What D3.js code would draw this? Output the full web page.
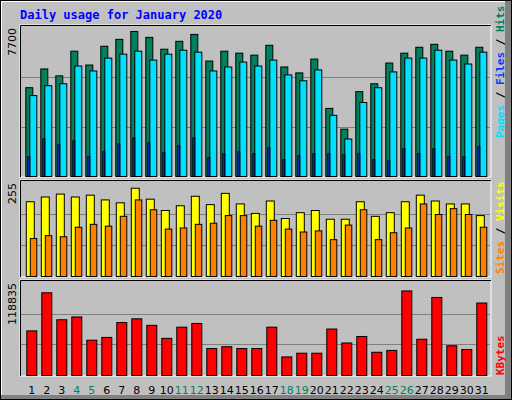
<!DOCTYPE html>
<html><head><meta charset="utf-8">
<script src="https://cdn.jsdelivr.net/npm/d3@7"></script>
<style>body{margin:0;background:#fff}svg{display:block}</style>
</head><body><svg width="512" height="400"></svg>
<script>
'use strict'

const days = d3.range(1, 32)
const weekend = [4, 5, 11, 12, 18, 19, 25, 26]
const hits = [4620, 5595, 5236, 6519, 5800, 6776, 7135, 7546, 7238, 6622, 7033, 7392, 6006, 6519, 6417, 6314, 6827, 5698, 5390, 6108, 3542, 2464, 4415, 4825, 5903, 6417, 6724, 6878, 6519, 6314, 6724]
const files = [4209, 4723, 4825, 5749, 5492, 6160, 6365, 6519, 6057, 6365, 6570, 6468, 5492, 5698, 5954, 5749, 6057, 5287, 4979, 5544, 3183, 1951, 3850, 4620, 5441, 6160, 6160, 6570, 6057, 5852, 6468]
const pages = [1027, 1951, 1643, 1848, 1027, 1283, 1694, 2002, 1745, 1232, 1591, 2002, 975, 1181, 1283, 1181, 1489, 873, 1078, 1181, 1181, 1129, 1181, 873, 821, 1437, 1181, 1437, 1027, 1027, 1540]
const sites = [205, 218, 226, 218, 223, 210, 202, 242, 212, 181, 194, 220, 197, 228, 199, 173, 207, 159, 175, 181, 157, 157, 205, 165, 175, 205, 223, 207, 199, 199, 167]
const visits = [104, 112, 109, 135, 143, 138, 165, 210, 183, 130, 133, 143, 146, 167, 167, 138, 154, 130, 122, 125, 101, 141, 183, 101, 120, 133, 199, 170, 186, 170, 135]
const kbytes = [57615, 106830, 72020, 75620, 45610, 49210, 68420, 73220, 64815, 48010, 62415, 67215, 34810, 37210, 34810, 34810, 62415, 24005, 28805, 28805, 60015, 42010, 50410, 30005, 32410, 109225, 46810, 100825, 38410, 33610, 93625]
const maxLabels = ['7700', '255', '118835']

const svg = d3.select('svg')
const mono = 'DejaVu Sans Mono, monospace'

// outer 3D frame
svg.append('rect').attr('width', 512).attr('height', 400).attr('fill', '#808080')
svg.append('rect').attr('width', 505).attr('height', 395).attr('fill', '#fff')
svg.append('rect').attr('x', 2).attr('y', 2).attr('width', 503).attr('height', 393).attr('fill', '#c0c0c0')
svg.append('rect').attr('x', 0.5).attr('y', 0.5).attr('width', 511).attr('height', 399).attr('fill', 'none').attr('stroke', '#000')

svg.append('text').attr('x', 20).attr('y', 19).text('Daily usage for January 2020')
  .attr('font-family', mono).attr('font-weight', 'bold').attr('font-size', 12).attr('fill', '#0000ff')

const x = d3.scaleBand().domain(days).range([21.3, 486.3]).paddingInner(0).paddingOuter(0)

function panel (top, bottom, max, label) {
  svg.append('rect').attr('x', 20).attr('y', top).attr('width', 471).attr('height', bottom - top)
    .attr('fill', '#c0c0c0').attr('stroke', '#fff')
  svg.append('path').attr('d', `M20.5,${bottom}V${top + 0.5}H491`).attr('stroke', '#000').attr('fill', 'none')
  const y = d3.scaleLinear().domain([0, max]).range([bottom - 1, top + 3])
  ;[1 / 3, 2 / 3].forEach(f => {
    const yy = Math.round(bottom - 1 - (bottom - top - 4) * f) + 0.5
    svg.append('line').attr('x1', 21).attr('x2', 490).attr('y1', yy).attr('y2', yy).attr('stroke', '#808080')
  })
  svg.append('text').attr('transform', `translate(16,${top + 3}) rotate(-90)`).attr('text-anchor', 'end')
    .attr('font-family', 'DejaVu Sans, sans-serif').attr('font-size', 11).text(label)
  return y
}

function bars (data, y, dx, w, fill) {
  svg.append('g').selectAll('rect').data(data).join('rect')
    .attr('x', (d, i) => x(days[i]) + dx + 0.5).attr('width', w)
    .attr('y', d => y(d) + 0.5).attr('height', d => y(0) - y(d))
    .attr('fill', fill).attr('stroke', '#000')
}

const y1 = panel(25, 177, 7700, maxLabels[0])
bars(hits, y1, 4, 7, '#00805c')
bars(files, y1, 8, 7, '#00e0ff')
bars(pages, y1, 6, 2, '#0040ff')

const y2 = panel(180, 277, 255, maxLabels[1])
bars(sites, y2, 4.5, 8, '#ffff00')
bars(visits, y2, 8.5, 6.5, '#ff8000')

const y3 = panel(280, 376, 118835, maxLabels[2])
bars(kbytes, y3, 5, 10, '#ff0000')

svg.append('g').selectAll('text').data(days).join('text')
  .attr('x', d => x(d) + 10.5).attr('y', 394).attr('text-anchor', 'middle')
  .attr('font-family', 'DejaVu Sans, sans-serif').attr('font-size', 11)
  .attr('fill', d => weekend.includes(d) ? '#00805c' : '#000').text(d => d)

function sideLabel (yPos, parts) {
  const t = svg.append('text').attr('transform', `translate(504,${yPos}) rotate(-90)`)
    .attr('font-family', mono).attr('font-weight', 'bold').attr('font-size', 11)
  parts.forEach(p => t.append('tspan').attr('fill', p[1]).text(p[0]))
}
sideLabel(138, [['Pages', '#00e0ff'], [' / ', '#000'], ['Files', '#0040ff'], [' / ', '#000'], ['Hits', '#00805c']])
sideLabel(274, [['Sites', '#ff8000'], [' / ', '#000'], ['Visits', '#ffff00']])
sideLabel(375, [['KBytes', '#ff0000']])
</script></body></html>
